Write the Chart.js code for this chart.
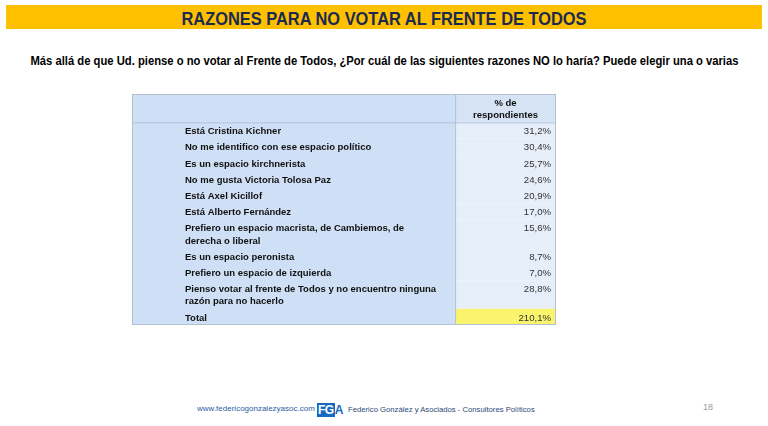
<!DOCTYPE html>
<html>
<head>
<meta charset="utf-8">
<script src="https://cdn.jsdelivr.net/npm/chart.js@4/dist/chart.umd.min.js"></script>
<style>
  body { margin: 0; width: 768px; height: 426px; background: #fff; overflow: hidden; position: relative; font-family: "Liberation Sans", Arial, sans-serif; }
  .banner { position: absolute; left: 6px; top: 5px; width: 756px; height: 24px; background: #FFC000; }
  .fit { position: absolute; white-space: nowrap; transform-origin: center center; }
  #title { top: 11px; font: bold 17.5px "Liberation Sans", sans-serif; color: #1B2A50; line-height: 16px; }
  #question { top: 53px; font: bold 13px "Liberation Sans", sans-serif; color: #000; line-height: 15px; }
  #wrap { position: absolute; left: 132px; top: 94px; width: 424px; height: 231px; }
  .foot { position: absolute; top: 404px; font: 8px "Liberation Sans", sans-serif; white-space: nowrap; }
  .logo { position: absolute; left: 317px; top: 403px; font: bold 12px "Liberation Sans", sans-serif; line-height: 14px; letter-spacing: -0.5px; }
  .logo span.box { background: #1669C1; color: #fff; padding: 0 1px; }
  .logo span.a { color: #1669C1; }
  .pg { position: absolute; left: 703px; top: 402px; font: 9px "Liberation Sans", sans-serif; color: #9a9a9a; }
</style>
</head>
<body>
<div class="banner"></div>
<div class="fit" id="title" data-cx="384" data-w="405">RAZONES PARA NO VOTAR AL FRENTE DE TODOS</div>
<div class="fit" id="question" data-cx="384" data-w="708">Más allá de que Ud. piense o no votar al Frente de Todos, ¿Por cuál de las siguientes razones NO lo haría? Puede elegir una o varias</div>
<div id="wrap"><canvas id="myChart"></canvas></div>
<div class="foot" style="left:197px;color:#2E5C9E;">www.federicogonzalezyasoc.com</div>
<div class="logo"><span class="box">FG</span><span class="a">A</span></div>
<div class="foot" style="left:348px;color:#2B4A7A;font-size:7.7px;top:404.5px;">Federico González y Asociados - Consultores Políticos</div>
<div class="pg">18</div>
<script>
// squeeze the heading texts to the width they have in the slide
document.querySelectorAll('.fit').forEach(el => {
  const w = el.offsetWidth;
  const target = +el.dataset.w;
  el.style.left = (+el.dataset.cx - w / 2) + 'px';
  el.style.transform = 'scaleX(' + (target / w) + ')';
});

// table content
const headerLines = ['% de', 'respondientes'];
const reasons = [
  ['Está Cristina Kichner'],
  ['No me identifico con ese espacio político'],
  ['Es un espacio kirchnerista'],
  ['No me gusta Victoria Tolosa Paz'],
  ['Está Axel Kicillof'],
  ['Está Alberto Fernández'],
  ['Prefiero un espacio macrista, de Cambiemos, de', 'derecha o liberal'],
  ['Es un espacio peronista'],
  ['Prefiero un espacio de izquierda'],
  ['Pienso votar al frente de Todos y no encuentro ninguna', 'razón para no hacerlo']
];
const percents = [31.2, 30.4, 25.7, 24.6, 20.9, 17.0, 15.6, 8.7, 7.0, 28.8];
const totalLabel = 'Total';
const totalPercent = 210.1;

// row heights in line units: 4 + 12 per text line
const rowUnits = lines => 4 + 12 * lines;
const allLabels = reasons.concat([[totalLabel]]);
const allValues = percents.concat([totalPercent]);
const rows = [];
let acc = rowUnits(headerLines.length);
const headerSpan = [0, acc];
allLabels.forEach((lines, i) => {
  const h = rowUnits(lines.length);
  rows.push({ lines: lines, value: allValues[i], top: acc, bottom: acc + h, total: i === allLabels.length - 1 });
  acc += h;
});
const tableUnits = acc;

const COL_SPLIT = 0.762;  // label column / value column
const LABEL_X = 0.125;

const fmt = v => v.toFixed(1).replace('.', ',') + '%';

const tablePlugin = {
  id: 'table',
  beforeDatasetsDraw(chart) {
    const { ctx, scales: { x, y } } = chart;
    const L = x.getPixelForValue(0), R = x.getPixelForValue(1), M = x.getPixelForValue(COL_SPLIT);
    const T = y.getPixelForValue(0), B = y.getPixelForValue(tableUnits);
    const H = y.getPixelForValue(headerSpan[1]);
    ctx.save();
    ctx.fillStyle = '#CFDFF5';
    ctx.fillRect(L, T, M - L, B - T);
    ctx.fillStyle = '#D5E3F5';
    ctx.fillRect(M, T, R - M, H - T);
    rows.forEach(r => {
      ctx.fillStyle = r.total ? '#FAF46C' : '#E6EEF9';
      const t = y.getPixelForValue(r.top), b = y.getPixelForValue(r.bottom);
      ctx.fillRect(M, t, R - M, b - t);
    });
    ctx.lineWidth = 1;
    ctx.strokeStyle = '#AFC2DA';
    ctx.beginPath();
    ctx.moveTo(L, H + 0.5); ctx.lineTo(R, H + 0.5);
    ctx.moveTo(M + 0.5, T); ctx.lineTo(M + 0.5, B);
    ctx.stroke();
    ctx.strokeStyle = '#B4C0CF';
    ctx.strokeRect(L + 0.5, T + 0.5, R - L - 1, B - T - 1);

    // header text
    ctx.fillStyle = '#111';
    ctx.textAlign = 'center';
    ctx.textBaseline = 'middle';
    ctx.font = 'bold 9.5px "Liberation Sans"';
    headerLines.forEach((s, i) => {
      ctx.fillText(s, (M + R) / 2, y.getPixelForValue(headerSpan[0] + 8 + 12 * i) + 1);
    });
    // row labels
    ctx.textAlign = 'left';
    ctx.font = 'bold 9.5px "Liberation Sans"';
    rows.forEach(r => {
      r.lines.forEach((s, i) => {
        ctx.fillText(s, x.getPixelForValue(LABEL_X), y.getPixelForValue(r.top + 8 + 12 * i) + 1);
      });
    });
    ctx.restore();
  },
  afterDatasetsDraw(chart) {
    const { ctx } = chart;
    const meta = chart.getDatasetMeta(0);
    ctx.save();
    ctx.font = '9.6px "Liberation Sans"';
    ctx.fillStyle = '#333';
    ctx.textAlign = 'right';
    ctx.textBaseline = 'middle';
    meta.data.forEach((pt, i) => {
      ctx.fillText(fmt(rows[i].value), pt.x - 5, pt.y + 1);
    });
    ctx.restore();
  }
};

const ctx = document.getElementById('myChart').getContext('2d');
const myChart = new Chart(ctx, {
  type: 'scatter',
  data: {
    datasets: [{
      label: '% de respondientes',
      data: rows.map(r => ({ x: 1, y: r.top + 8 })),
      pointRadius: 0,
      pointHoverRadius: 0
    }]
  },
  options: {
    responsive: true,
    maintainAspectRatio: false,
    animation: false,
    layout: { padding: 0 },
    plugins: { legend: { display: false }, tooltip: { enabled: false } },
    scales: {
      x: { type: 'linear', min: 0, max: 1, display: false },
      y: { type: 'linear', min: 0, max: tableUnits, reverse: true, display: false }
    }
  },
  plugins: [tablePlugin]
});
</script>
</body>
</html>
